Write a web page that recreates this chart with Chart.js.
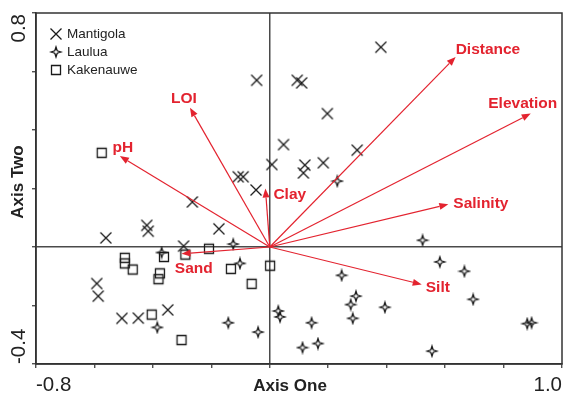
<!DOCTYPE html>
<html>
<head>
<meta charset="utf-8">
<script src="https://cdn.jsdelivr.net/npm/chart.js@4/dist/chart.umd.min.js"></script>
<style>
  body { margin: 0; background: #fff; }
  canvas { display: block; }
</style>
</head>
<body>
<canvas id="myChart" width="563" height="395"></canvas>
<script>
// site scores
var mantigolaX = [-0.045, 0.380, 0.094, 0.109, 0.197, 0.047, 0.299, 0.007, 0.120, 0.115, 0.183, -0.108, -0.091,
                  -0.047, -0.265, -0.421, -0.416, -0.174, -0.561, -0.295, -0.592, -0.587, -0.506, -0.450, -0.349];
var mantigolaY = [0.570, 0.683, 0.570, 0.561, 0.456, 0.350, 0.331, 0.282, 0.280, 0.253, 0.288, 0.240, 0.240,
                  0.195, 0.154, 0.074, 0.054, 0.062, 0.031, 0.003, -0.125, -0.168, -0.244, -0.243, -0.215];

var lauluaX = [0.231, -0.125, -0.370, -0.102, -0.385, -0.142, -0.040, 0.029, 0.035, 0.523, 0.582, 0.666,
               0.246, 0.696, 0.295, 0.277, 0.394, 0.284, 0.143, 0.165, 0.112, 0.555, 0.881, 0.896];
var lauluaY = [0.225, 0.010, -0.019, -0.056, -0.275, -0.259, -0.291, -0.219, -0.239, 0.023, -0.051, -0.083,
               -0.097, -0.179, -0.168, -0.197, -0.206, -0.244, -0.259, -0.330, -0.344, -0.356, -0.262, -0.259];

var kakenauweX = [-0.575, -0.208, -0.362, -0.289, -0.496, -0.496, -0.469, -0.376, -0.381, -0.133, 0.001, -0.062, -0.404, -0.302];
var kakenauweY = [0.322, -0.006, -0.034, -0.026, -0.037, -0.056, -0.077, -0.090, -0.110, -0.075, -0.064, -0.126, -0.231, -0.318];

// environmental vectors
var varNomi = ['Distance', 'Elevation', 'Salinity', 'Silt', 'Clay', 'LOI', 'pH', 'Sand'];
var varX = [0.636, 0.893, 0.611, 0.520, -0.015, -0.273, -0.513, -0.302];
var varY = [0.650, 0.456, 0.146, -0.128, 0.200, 0.476, 0.311, -0.023];

var gruppi = ['Mantigola', 'Laulua', 'Kakenauwe'];
var xTickLabels = ['-0.8', '1.0'];
var yTickLabels = ['0.8', '-0.4'];
var titoloX = 'Axis One';
var titoloY = 'Axis Two';

// label placement next to arrow tips: [dx, dy, align]
var labelPos = [[0, -7, 'left'], [-8, -10, 'center'], [5, -1, 'left'], [4, 3, 'left'],
                [8, 6.5, 'left'], [-6, -9, 'center'], [-7.3, -8.7, 'left'], [-6.7, 14.7, 'left']];

var ROSSO = '#e3232f';
var NERO = '#1a1a1a';

function marker(tipo) {
    var c = document.createElement('canvas');
    c.width = 14;
    c.height = 14;
    var g = c.getContext('2d');
    g.strokeStyle = NERO;
    g.lineWidth = 1.3;
    g.beginPath();
    if (tipo == 'x') {
        g.moveTo(1.5, 1.5); g.lineTo(12.5, 12.5);
        g.moveTo(12.5, 1.5); g.lineTo(1.5, 12.5);
    } else if (tipo == 'star') {
        g.moveTo(7, 2); g.lineTo(8.2, 5.8); g.lineTo(12, 7); g.lineTo(8.2, 8.2);
        g.lineTo(7, 12); g.lineTo(5.8, 8.2); g.lineTo(2, 7); g.lineTo(5.8, 5.8);
        g.closePath();
    } else {
        g.rect(2.5, 2.5, 9, 9);
    }
    g.stroke();
    return c;
}

var simboli = [marker('x'), marker('star'), marker('square')];

function punti(xs, ys) {
    var out = [];
    for (var i = 0; i < xs.length; i++) {
        out.push({x: xs[i], y: ys[i]});
    }
    return out;
}

var biplot = {
    id: 'biplot',
    afterDatasetsDraw: function(chart) {
        var c = chart.ctx;
        var sx = chart.scales.x, sy = chart.scales.y;
        var x0 = sx.getPixelForValue(0), y0 = sy.getPixelForValue(0);
        c.save();
        for (var i = 0; i < varNomi.length; i++) {
            var x1 = sx.getPixelForValue(varX[i]);
            var y1 = sy.getPixelForValue(varY[i]);
            var ang = Math.atan2(y1 - y0, x1 - x0);
            var hl = 9, hw = 3.5;
            var bx = x1 - hl * Math.cos(ang), by = y1 - hl * Math.sin(ang);
            c.strokeStyle = ROSSO;
            c.fillStyle = ROSSO;
            c.lineWidth = 1.2;
            c.beginPath();
            c.moveTo(x0, y0);
            c.lineTo(bx, by);
            c.stroke();
            c.beginPath();
            c.moveTo(x1, y1);
            c.lineTo(bx + hw * Math.sin(ang), by - hw * Math.cos(ang));
            c.lineTo(bx - hw * Math.sin(ang), by + hw * Math.cos(ang));
            c.closePath();
            c.fill();
            c.font = 'bold 15.5px "Liberation Sans", Arial, sans-serif';
            c.textAlign = labelPos[i][2];
            c.textBaseline = 'middle';
            c.fillText(varNomi[i], x1 + labelPos[i][0], y1 + labelPos[i][1]);
        }
        c.restore();
    },
    afterDraw: function(chart) {
        var c = chart.ctx;
        var a = chart.chartArea;
        c.save();
        // frame
        c.strokeStyle = '#333';
        c.lineWidth = 1.5;
        c.strokeRect(a.left, a.top, a.right - a.left, a.bottom - a.top);

        // tick labels at the ends only
        c.fillStyle = '#222';
        c.font = '20.5px "Liberation Sans", Arial, sans-serif';
        c.textBaseline = 'middle';
        c.textAlign = 'left';
        c.fillText(xTickLabels[0], a.left, 385);
        c.textAlign = 'right';
        c.fillText(xTickLabels[1], a.right, 385);

        c.save();
        c.translate(19, a.top + 1);
        c.rotate(-Math.PI / 2);
        c.textAlign = 'right';
        c.fillText(yTickLabels[0], 0, 0);
        c.restore();
        c.save();
        c.translate(19, a.bottom);
        c.rotate(-Math.PI / 2);
        c.textAlign = 'left';
        c.fillText(yTickLabels[1], 0, 0);
        c.restore();

        // axis titles
        c.font = 'bold 17px "Liberation Sans", Arial, sans-serif';
        c.textAlign = 'center';
        c.fillText(titoloX, 290, 386);
        c.save();
        c.translate(18, 182);
        c.rotate(-Math.PI / 2);
        c.fillText(titoloY, 0, 0);
        c.restore();

        // legend
        c.font = '13.5px "Liberation Sans", Arial, sans-serif';
        c.textAlign = 'left';
        c.fillStyle = '#222';
        for (var i = 0; i < gruppi.length; i++) {
            var ly = a.top + 21 + i * 18;
            c.drawImage(simboli[i], a.left + 20 - 7, ly - 7);
            c.fillText(gruppi[i], a.left + 31, ly);
        }
        c.restore();
    }
};

function griglia() {
    return {
        drawOnChartArea: true,
        drawTicks: true,
        tickLength: 4,
        tickColor: '#333',
        tickWidth: 1.2,
        lineWidth: 1.5,
        color: function(ctx) {
            return (ctx.tick && Math.abs(ctx.tick.value) < 1e-9) ? '#4a4a4a' : 'rgba(0,0,0,0)';
        }
    };
}

var ctx = document.getElementById('myChart').getContext('2d');
var myChart = new Chart(ctx, {
    type: 'scatter',
    data: {
        datasets: [{
            label: gruppi[0],
            data: punti(mantigolaX, mantigolaY),
            pointStyle: simboli[0],
            pointRadius: 6
        }, {
            label: gruppi[1],
            data: punti(lauluaX, lauluaY),
            pointStyle: simboli[1],
            pointRadius: 6
        }, {
            label: gruppi[2],
            data: punti(kakenauweX, kakenauweY),
            pointStyle: simboli[2],
            pointRadius: 6
        }]
    },
    options: {
        responsive: false,
        animation: false,
        layout: { autoPadding: false, padding: { top: 13, right: 1, left: 0, bottom: 0 } },
        plugins: {
            legend: { display: false },
            tooltip: { enabled: false }
        },
        scales: {
            x: {
                type: 'linear',
                min: -0.8,
                max: 1.0,
                ticks: { stepSize: 0.2, display: false },
                grid: griglia(),
                border: { display: true, color: '#333', width: 1.5 },
                afterFit: function(s) { s.height = 31; }
            },
            y: {
                type: 'linear',
                min: -0.4,
                max: 0.8,
                ticks: { stepSize: 0.2, display: false },
                grid: griglia(),
                border: { display: true, color: '#333', width: 1.5 },
                afterFit: function(s) { s.width = 36; }
            }
        }
    },
    plugins: [biplot]
});
</script>
</body>
</html>
